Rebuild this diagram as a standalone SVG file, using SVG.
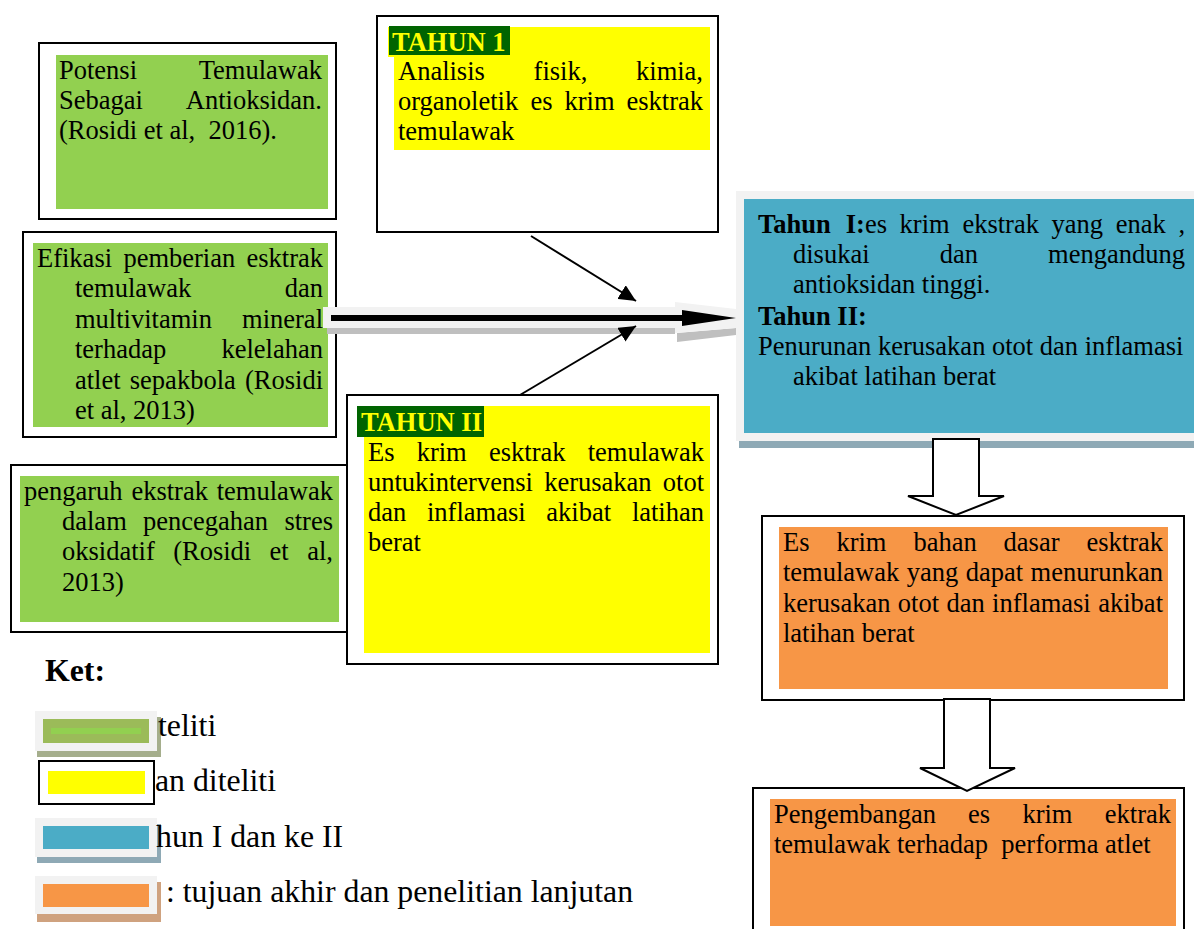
<svg xmlns="http://www.w3.org/2000/svg" width="1194" height="929" viewBox="0 0 1194 929">
<style>
.t{font-family:"Liberation Serif","Times New Roman",serif;font-size:26.5px;fill:#000}
.b{font-weight:bold}
.e{text-anchor:end}
.lg{font-size:31.8px}
.frame{fill:#fff;stroke:#000;stroke-width:2}
.green{fill:#92D050}
.yellow{fill:#FFFF00}
.orange{fill:#F79646}
.blue{fill:#4BACC6}
.hl{fill:#006400}
.hlt{fill:#FFFF00;font-weight:bold}
.light{fill:#F2F2F2}
.thin{stroke:#000;stroke-width:2;fill:none}
.block{fill:#fff;stroke:#000;stroke-width:2;stroke-linejoin:miter}
</style>
<defs>
<marker id="ah" markerUnits="userSpaceOnUse" markerWidth="18" markerHeight="16" refX="17" refY="8" orient="auto" viewBox="0 0 18 16"><path d="M0,0 L17,8 L0,16 z" fill="#000"/></marker>
</defs>
<rect width="1194" height="929" fill="#fff"/>

<g id="node-potensi">
<rect class="frame" x="39" y="43" width="297" height="176"/>
<rect class="green" x="56" y="55" width="272" height="154"/>
<text class="t" x="59" y="79">Potensi</text>
<text class="t e" x="322" y="79">Temulawak</text>
<text class="t" x="59" y="109">Sebagai</text>
<text class="t e" x="322" y="109">Antioksidan.</text>
<text class="t" x="59" y="139" xml:space="preserve">(Rosidi et al,  2016).</text>
</g>

<g id="node-efikasi">
<rect class="frame" x="23" y="232" width="313" height="205"/>
<rect class="green" x="33" y="243" width="295" height="184"/>
<text class="t" x="37" y="267">Efikasi</text>
<text class="t" x="123.4" y="267">pemberian</text>
<text class="t e" x="323" y="267">esktrak</text>
<text class="t" x="75" y="297">temulawak</text>
<text class="t e" x="323" y="297">dan</text>
<text class="t" x="75" y="328">multivitamin</text>
<text class="t e" x="323" y="328">mineral</text>
<text class="t" x="75" y="358">terhadap</text>
<text class="t e" x="323" y="358">kelelahan</text>
<text class="t" x="75" y="389">atlet</text>
<text class="t" x="129.8" y="389">sepakbola</text>
<text class="t e" x="323" y="389">(Rosidi</text>
<text class="t" x="75" y="419">et al, 2013)</text>
</g>

<g id="node-pengaruh">
<rect class="frame" x="11" y="465" width="336" height="167"/>
<rect class="green" x="20" y="476" width="319" height="146"/>
<text class="t" x="24" y="500">pengaruh</text>
<text class="t" x="131.4" y="500">ekstrak</text>
<text class="t e" x="333" y="500">temulawak</text>
<text class="t" x="62" y="530">dalam</text>
<text class="t" x="143" y="530">pencegahan</text>
<text class="t e" x="333" y="530">stres</text>
<text class="t" x="62" y="560">oksidatif</text>
<text class="t" x="173.2" y="560">(Rosidi</text>
<text class="t" x="269.6" y="560">et</text>
<text class="t e" x="333" y="560">al,</text>
<text class="t" x="62" y="591">2013)</text>
</g>

<g id="node-tahun1">
<rect class="frame" x="377" y="16" width="341" height="216"/>
<rect class="yellow" x="388" y="27" width="322" height="30"/>
<rect class="yellow" x="394" y="27" width="316" height="123"/>
<rect class="hl" x="389" y="26" width="121" height="29"/>
<text class="t hlt" x="392" y="51">TAHUN 1</text>
<text class="t" x="398" y="80">Analisis</text>
<text class="t" x="533.6" y="80">fisik,</text>
<text class="t e" x="703" y="80">kimia,</text>
<text class="t" x="398" y="110">organoletik</text>
<text class="t" x="530.6" y="110">es</text>
<text class="t" x="564.5" y="110">krim</text>
<text class="t e" x="703" y="110">esktrak</text>
<text class="t" x="398" y="140">temulawak</text>
</g>

<g id="node-tahun2">
<rect class="frame" x="347" y="395" width="371" height="269"/>
<rect class="yellow" x="364" y="406" width="346" height="247"/>
<rect class="hl" x="357" y="406" width="127" height="31"/>
<text class="t hlt" x="361" y="431">TAHUN II</text>
<text class="t" x="368" y="461">Es</text>
<text class="t" x="416.7" y="461">krim</text>
<text class="t" x="489" y="461">esktrak</text>
<text class="t e" x="704" y="461">temulawak</text>
<text class="t" x="368" y="491">untukintervensi</text>
<text class="t" x="544.2" y="491">kerusakan</text>
<text class="t e" x="704" y="491">otot</text>
<text class="t" x="368" y="521">dan</text>
<text class="t" x="427" y="521">inflamasi</text>
<text class="t" x="546.3" y="521">akibat</text>
<text class="t e" x="704" y="521">latihan</text>
<text class="t" x="368" y="551">berat</text>
</g>

<g id="node-hasil">
<rect x="739" y="197" width="455" height="251" fill="#8EA9B5"/>
<rect class="light" x="736" y="191" width="458" height="250"/>
<rect class="blue" x="744" y="199" width="450" height="234"/>
<text class="t b" x="758" y="233">Tahun</text>
<text class="t" x="845.8" y="233"><tspan class="b">I:</tspan>es</text>
<text class="t" x="899.6" y="233">krim</text>
<text class="t" x="962.4" y="233">ekstrak</text>
<text class="t" x="1051.6" y="233">yang</text>
<text class="t" x="1115.7" y="233">enak</text>
<text class="t e" x="1185" y="233">,</text>
<text class="t" x="793" y="263">disukai</text>
<text class="t" x="939.7" y="263">dan</text>
<text class="t e" x="1185" y="263">mengandung</text>
<text class="t" x="793" y="293">antioksidan tinggi.</text>
<text class="t b" x="758" y="325">Tahun II:</text>
<text class="t" x="758" y="355">Penurunan kerusakan otot dan inflamasi</text>
<text class="t" x="793" y="385">akibat latihan berat</text>
</g>

<g id="node-tujuan">
<rect class="frame" x="762" y="516" width="422" height="184"/>
<rect class="orange" x="779" y="527" width="389" height="162"/>
<text class="t" x="783" y="551">Es</text>
<text class="t" x="836.4" y="551">krim</text>
<text class="t" x="913.4" y="551">bahan</text>
<text class="t" x="1003.6" y="551">dasar</text>
<text class="t e" x="1163" y="551">esktrak</text>
<text class="t" x="783" y="581">temulawak</text>
<text class="t" x="906.7" y="581">yang</text>
<text class="t" x="965.7" y="581">dapat</text>
<text class="t e" x="1163" y="581">menurunkan</text>
<text class="t" x="783" y="612">kerusakan</text>
<text class="t" x="897.8" y="612">otot</text>
<text class="t" x="946.4" y="612">dan</text>
<text class="t" x="992.1" y="612">inflamasi</text>
<text class="t e" x="1163" y="612">akibat</text>
<text class="t" x="783" y="642">latihan berat</text>
</g>

<g id="node-pengembangan">
<rect class="frame" x="753" y="788" width="431" height="160"/>
<rect class="orange" x="770" y="799" width="406" height="127"/>
<text class="t" x="774" y="823">Pengembangan</text>
<text class="t" x="968.1" y="823">es</text>
<text class="t" x="1022.4" y="823">krim</text>
<text class="t e" x="1171" y="823">ektrak</text>
<text class="t" x="774" y="853" xml:space="preserve">temulawak terhadap  performa atlet</text>
</g>

<g id="connectors">
<rect x="327" y="328" width="348" height="6" fill="#BFBFBF"/>
<polygon points="677,333 736,328 736,335 677,342" fill="#BFBFBF"/>
<polygon class="light" points="323,307 675,307 675,302 736,309 736,328 675,333 675,328 323,328"/>
<line x1="331" y1="318" x2="684" y2="318" stroke="#000" stroke-width="6"/>
<polygon points="682,310 736,318 682,326" fill="#000"/>
<line class="thin" x1="531" y1="236" x2="636" y2="301" marker-end="url(#ah)"/>
<line class="thin" x1="520" y1="395" x2="636" y2="326" marker-end="url(#ah)"/>
<polygon class="block" points="933,439 979,439 979,496 1004,496 956,515 908,496 933,496"/>
<polygon class="block" points="944,699 990,699 990,768 1015,768 967,791 920,768 944,768"/>
</g>

<g id="legend">
<text class="t b lg" x="45" y="681">Ket:</text>
<rect x="37" y="717" width="124" height="40" fill="#A5AE8C"/>
<rect class="light" x="35" y="711" width="122" height="40"/>
<rect x="43" y="719" width="106" height="24" fill="#9BBB59"/>
<rect class="green" x="51" y="728" width="90" height="6"/>
<text class="t lg" x="158" y="736">teliti</text>
<rect class="frame" x="39" y="761" width="115" height="43"/>
<rect class="yellow" x="48" y="771" width="97" height="23"/>
<text class="t lg" x="155" y="791">an diteliti</text>
<rect x="37" y="824" width="124" height="39" fill="#8EA9B5"/>
<rect class="light" x="35" y="818" width="122" height="39"/>
<rect class="blue" x="43" y="826" width="106" height="23"/>
<text class="t lg" x="156" y="847">hun I dan ke II</text>
<rect x="37" y="882" width="124" height="40" fill="#CFA27F"/>
<rect class="light" x="35" y="876" width="122" height="38"/>
<rect class="orange" x="43" y="884" width="106" height="23"/>
<text class="t lg" x="166" y="902">: tujuan akhir dan penelitian lanjutan</text>
</g>
</svg>
